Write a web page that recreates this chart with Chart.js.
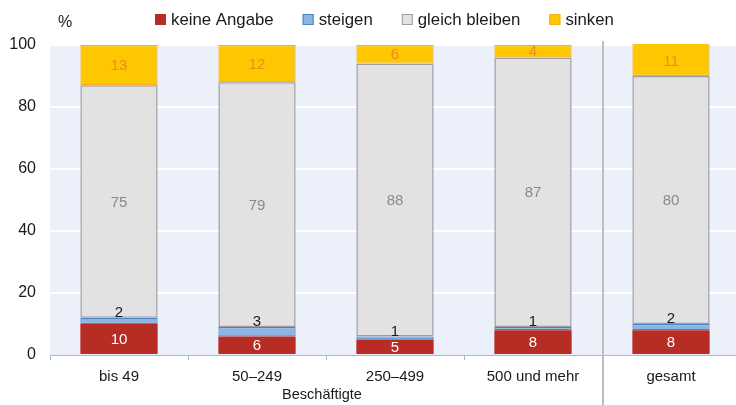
<!DOCTYPE html>
<html>
<head>
<meta charset="utf-8">
<script src="https://cdn.jsdelivr.net/npm/chart.js@4"></script>
<style>
  html, body { margin: 0; padding: 0; background: #fff; overflow: hidden; }
  #wrap { width: 740px; height: 405px; position: relative; }
</style>
</head>
<body>
<div id="wrap"><canvas id="chart"></canvas></div>
<script>
const categories = ['bis 49', '50–249', '250–499', '500 und mehr', 'gesamt'];
const keineAngabe = [10, 6, 5, 8, 8];
const steigen = [2, 3, 1, 1, 2];
const gleichBleiben = [75, 79, 88, 87, 80];
const sinken = [13, 12, 6, 4, 11];
const yTicks = [0, 20, 40, 60, 80, 100];
const seriesNames = ['keine Angabe', 'steigen', 'gleich bleiben', 'sinken'];
const axisTitle = 'Beschäftigte';

const FONT = '"Liberation Sans", Arial, sans-serif';

const styles = [
  { fill: '#B72C23', border: '#B72C23', label: '#ffffff' },
  { fill: '#8EB4E3', border: '#4A83C8', label: '#1a1a1a' },
  { fill: '#E2E2E2', border: '#9E9E9E', label: '#8a8a8a' },
  { fill: '#FFC700', border: '#F7AE1A', label: '#EE8A22' }
];

const values = [keineAngabe, steigen, gleichBleiben, sinken];

const datasets = values.map((data, i) => ({
  label: seriesNames[i],
  data: data,
  backgroundColor: styles[i].fill,
  borderColor: styles[i].border,
  borderWidth: i === 0 ? 0 : (i === 2 ? 1.5 : 1.2),
  borderSkipped: false,
  barPercentage: 0.56,
  categoryPercentage: 1,
  clip: { left: 5, right: 5, top: 1, bottom: 0 }
}));

// plot background
const bgPlugin = {
  id: 'bg',
  beforeDraw(chart) {
    const { ctx, chartArea: a } = chart;
    ctx.save();
    ctx.fillStyle = '#EBF0FA';
    ctx.fillRect(a.left, a.top, a.right - a.left, a.bottom - a.top);
    ctx.restore();
  }
};

// labels in the bars, legend, % and divider
const extras = {
  id: 'extras',
  afterDatasetsDraw(chart) {
    const ctx = chart.ctx;
    ctx.save();
    ctx.font = '15px ' + FONT;
    ctx.textAlign = 'center';
    ctx.textBaseline = 'middle';
    values.forEach((data, i) => {
      const meta = chart.getDatasetMeta(i);
      meta.data.forEach((bar, j) => {
        ctx.fillStyle = styles[i].label;
        let y = (bar.y + bar.base) / 2;
        if (i === 1) y = bar.y - 6;
        if (i === 3) y = (Math.max(bar.y, chart.chartArea.top) + bar.base) / 2;
        ctx.fillText(String(data[j]), bar.x, y + 1);
      });
    });
    ctx.restore();
  },
  afterDraw(chart) {
    const ctx = chart.ctx;
    const x = chart.scales.x;
    ctx.save();
    // divider before "gesamt"
    const dx = (x.getPixelForValue(3) + x.getPixelForValue(4)) / 2 + 1;
    ctx.strokeStyle = '#BEBEBE';
    ctx.lineWidth = 2;
    ctx.beginPath();
    ctx.moveTo(dx, chart.chartArea.top - 4);
    ctx.lineTo(dx, chart.height);
    ctx.stroke();

    // axis title under the first four groups
    ctx.fillStyle = '#1a1a1a';
    ctx.font = '14.5px ' + FONT;
    ctx.textAlign = 'center';
    ctx.textBaseline = 'middle';
    const tx = (x.getPixelForValue(0) + x.getPixelForValue(3)) / 2 - 4;
    ctx.fillText(axisTitle, tx, 395);

    // percent sign
    ctx.font = '16px ' + FONT;
    ctx.fillText('%', 65, 23);

    // legend
    ctx.font = '16.8px ' + FONT;
    ctx.textAlign = 'left';
    let lx = 155;
    seriesNames.forEach((name, i) => {
      ctx.fillStyle = styles[i].fill;
      ctx.fillRect(lx, 14, 11, 11);
      if (i > 0) {
        ctx.strokeStyle = styles[i].border;
        ctx.lineWidth = 1;
        ctx.strokeRect(lx + 0.5, 14.5, 10, 10);
      }
      ctx.fillStyle = '#1a1a1a';
      ctx.fillText(name, lx + 16, 20);
      lx += 16 + ctx.measureText(name).width + 29;
    });
    ctx.restore();
  }
};

new Chart(document.getElementById('chart'), {
  type: 'bar',
  data: { labels: categories, datasets: datasets },
  options: {
    responsive: true,
    maintainAspectRatio: false,
    animation: false,
    layout: { padding: { top: 45, left: 0, right: 0, bottom: 0 } },
    plugins: {
      legend: { display: false },
      tooltip: { enabled: false }
    },
    scales: {
      x: {
        stacked: true,
        afterFit(scale) { scale.height = 50; },
        border: { display: true, color: '#A4B8E4', width: 1 },
        grid: {
          offset: true,
          drawOnChartArea: false,
          drawTicks: true,
          tickLength: 5,
          color: '#A4B8E4'
        },
        ticks: {
          color: '#1a1a1a',
          font: { family: FONT, size: 15 },
          padding: 8,
          maxRotation: 0
        }
      },
      y: {
        stacked: true,
        min: yTicks[0],
        max: yTicks[yTicks.length - 1],
        afterFit(scale) { scale.width = 50; },
        afterBuildTicks(scale) { scale.ticks = yTicks.map(v => ({ value: v })); },
        border: { display: false },
        grid: {
          drawTicks: false,
          lineWidth: 2,
          color: ctx => ctx.tick && ctx.tick.value === 0 ? 'rgba(0,0,0,0)' : '#ffffff'
        },
        ticks: {
          color: '#1a1a1a',
          font: { family: FONT, size: 16 },
          padding: 14
        }
      }
    }
  },
  plugins: [bgPlugin, extras]
});
</script>
</body>
</html>
